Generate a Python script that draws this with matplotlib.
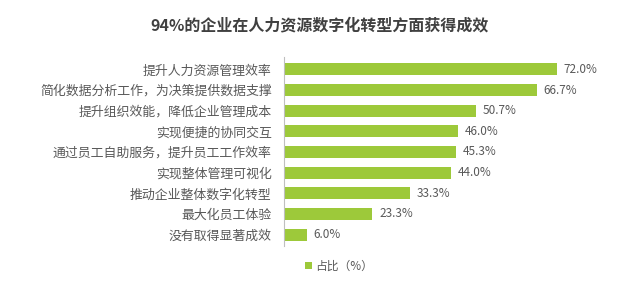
import matplotlib
matplotlib.use("Agg")
import matplotlib.pyplot as plt

plt.rcParams['font.family'] = ['Noto Sans CJK SC', 'DejaVu Sans']

categories = ["提升人力资源管理效率", "简化数据分析工作，为决策提供数据支撑", "提升组织效能，降低企业管理成本",
              "实现便捷的协同交互", "通过员工自助服务，提升员工工作效率", "实现整体管理可视化",
              "推动企业整体数字化转型", "最大化员工体验", "没有取得显著成效"]
values = [72.0, 66.7, 50.7, 46.0, 45.3, 44.0, 33.3, 23.3, 6.0]
series_name = "占比（%）"
title = "94%的企业在人力资源数字化转型方面获得成效"

green = "#9dc93a"
gray = "#595959"

fig = plt.figure(figsize=(6.4, 2.82), dpi=100)
ax = fig.add_axes([0.444, 0.128, 0.503, 0.67])

pos = list(range(len(categories)))
bars = ax.barh(pos, values, height=0.58, color=green, label=series_name)
for b, v in zip(bars, values):
    ax.text(b.get_width() + 1.8, b.get_y() + b.get_height() / 2, "%.1f%%" % v,
            va="center", ha="left", fontsize=8.5, color=gray)

ax.set_yticks(pos)
ax.set_yticklabels(categories, fontsize=9.3, color=gray)
ax.set_ylim(8.55, -0.6)
ax.set_xlim(0, 85)
ax.set_xticks([])
ax.tick_params(axis="y", length=0, pad=9)
for s in ["top", "right", "bottom"]:
    ax.spines[s].set_visible(False)
ax.spines["left"].set_color("#bfbfbf")
ax.spines["left"].set_linewidth(0.8)

ax.legend(loc="center", bbox_to_anchor=(0.17, -0.106), frameon=False, fontsize=8.5,
          handlelength=0.6, handleheight=0.6, handletextpad=0.3, labelcolor=gray)

fig.text(0.5, 0.91, title, ha="center", va="center", fontsize=11.5, fontweight="bold", color="#404040")

fig.savefig("out.png", dpi=100)
